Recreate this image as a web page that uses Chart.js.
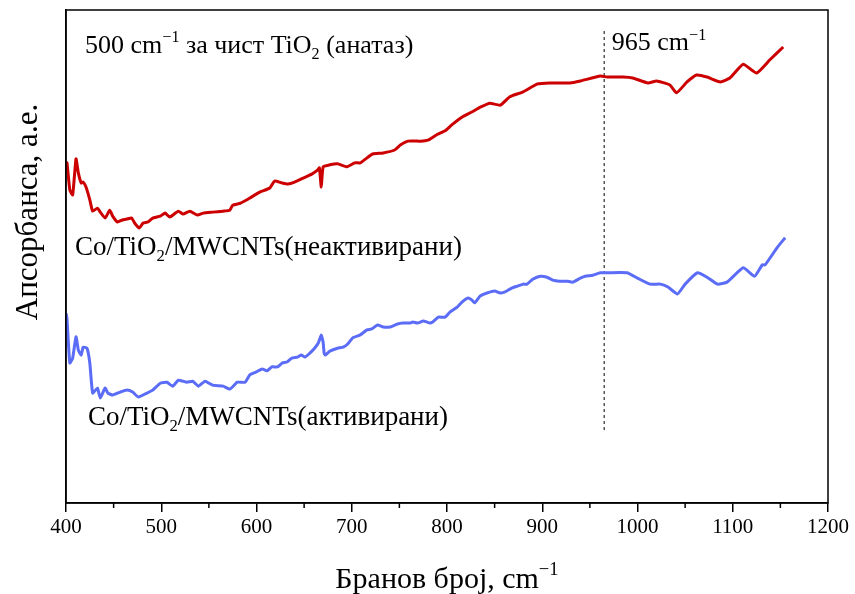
<!DOCTYPE html>
<html>
<head>
<meta charset="utf-8">
<script src="https://cdn.jsdelivr.net/npm/chart.js@4/dist/chart.umd.min.js"></script>
<style>
  html, body { margin: 0; padding: 0; background: #fff; }
  #wrap { width: 855px; height: 594px; }
</style>
</head>
<body>
<div id="wrap"><canvas id="chart"></canvas></div>
<script>
// ── Data
const redX = [400, 401, 404, 407, 410.5, 413, 416, 418, 421, 425, 428, 433, 436, 441, 446, 449, 454, 459, 464, 469, 472, 477, 481, 486, 491, 499, 504, 509, 518, 523, 530, 538, 544, 554, 565, 572, 575, 583, 590, 595, 604, 614, 619, 627, 633, 640, 649, 658, 664, 666, 668, 670, 677, 685, 695, 703, 709, 716, 722, 733, 745, 751, 759, 772, 780, 790, 798, 805, 816, 826, 835, 845, 856, 866, 880, 895, 908, 929, 940, 961, 968, 985, 995, 1011, 1020, 1034, 1041, 1052, 1062, 1073, 1087, 1097, 1111, 1125, 1139, 1153];
const redY = [68.6, 69.0, 63.5, 62.5, 69.8, 66.9, 64.9, 65.1, 64.1, 61.5, 59.2, 59.8, 59.0, 57.8, 59.4, 58.2, 57.0, 57.4, 57.6, 57.8, 56.8, 55.8, 56.8, 57.0, 57.8, 58.2, 58.8, 58.0, 59.2, 58.6, 59.2, 58.4, 58.8, 59.0, 59.2, 59.4, 60.4, 60.8, 61.5, 62.1, 63.1, 63.9, 65.3, 64.9, 64.7, 65.1, 65.9, 66.7, 67.5, 68.0, 64.1, 68.2, 68.6, 68.8, 68.2, 69.0, 69.0, 70.0, 70.8, 71.0, 71.6, 72.6, 73.4, 73.4, 73.6, 74.8, 75.5, 76.7, 78.3, 79.3, 80.3, 81.1, 80.7, 82.4, 83.4, 85.0, 85.2, 85.2, 85.6, 86.6, 86.4, 86.4, 86.2, 85.2, 85.6, 84.8, 83.2, 85.4, 86.8, 86.4, 85.4, 86.2, 89.0, 87.2, 89.9, 92.5];

const blueX = [400, 401, 404, 407, 410.5, 413, 416, 418, 422, 425, 428, 433, 436, 441, 444, 449, 457, 464, 470, 476, 485, 491, 499, 506, 512, 518, 527, 533, 539, 546, 554, 565, 572, 580, 588, 593, 600, 606, 611, 616, 622, 627, 632, 637, 643, 647, 651, 656, 661, 665, 668, 670, 671, 672, 677, 685, 691, 696, 701, 709, 716, 721, 727, 733, 740, 748, 754, 761, 764, 769, 775, 779, 782, 785, 791, 798, 803, 811, 816, 822, 826, 829, 835, 842, 850, 856, 861, 868, 874, 880, 884, 890, 898, 905, 911, 918, 926, 932, 940, 945, 953, 961, 968, 989, 1000, 1013, 1024, 1032, 1042, 1050, 1063, 1073, 1084, 1094, 1111, 1123, 1131, 1134, 1147, 1155];
const blueY = [38.5, 37.5, 28.4, 29.4, 33.7, 31.0, 30.0, 31.6, 31.4, 28.4, 22.3, 23.3, 21.3, 23.3, 22.3, 21.9, 22.5, 22.9, 22.5, 21.5, 22.3, 22.9, 24.3, 24.5, 23.7, 24.9, 24.5, 24.7, 23.7, 24.7, 23.9, 23.7, 23.1, 24.5, 24.5, 26.0, 26.6, 27.2, 26.8, 27.6, 27.6, 28.4, 28.6, 29.4, 29.6, 30.0, 29.6, 30.4, 31.4, 32.5, 34.1, 32.5, 30.4, 30.0, 30.8, 31.4, 31.6, 32.3, 33.5, 34.1, 35.1, 35.3, 36.1, 35.7, 35.7, 36.3, 36.5, 36.5, 36.7, 36.5, 36.9, 36.7, 36.5, 36.7, 37.7, 37.7, 38.7, 39.8, 40.8, 41.6, 41.2, 40.6, 42.0, 42.6, 43.0, 42.6, 42.8, 43.6, 44.0, 44.4, 44.4, 45.4, 46.0, 45.8, 45.2, 45.0, 45.0, 44.8, 45.6, 46.0, 46.2, 46.7, 46.7, 46.7, 45.6, 44.4, 44.4, 43.8, 42.4, 44.4, 46.7, 45.8, 44.4, 44.8, 47.7, 46.0, 48.3, 48.3, 51.9, 53.8];

const markerX = [965, 965];
const markerY = [14.8, 95.9];

const xTicks = [400, 500, 600, 700, 800, 900, 1000, 1100, 1200];
const xMinorTicks = [450, 550, 650, 750, 850, 950, 1050, 1150];

// ── Labels drawn on the plot, anchored in data units
// runs: [text, 0 = normal, 1 = superscript, -1 = subscript]
const labels = [
  { x: 420, y: 91.3, size: 26, runs: [['500 cm', 0], ['−1', 1], [' за чист TiO', 0], ['2', -1], [' (анатаз)', 0]] },
  { x: 973, y: 91.8, size: 26, runs: [['965 cm', 0], ['−1', 1]] },
  { x: 409.5, y: 50.3, size: 27, runs: [['Co/TiO', 0], ['2', -1], ['/MWCNTs(неактивирани)', 0]] },
  { x: 423, y: 15.8, size: 27, runs: [['Co/TiO', 0], ['2', -1], ['/MWCNTs(активирани)', 0]] },
];

const FONT = '"Liberation Serif", "DejaVu Serif", serif';
const toXY = (xs, ys) => xs.map((x, i) => ({ x, y: ys[i] }));

function runsWidth(ctx, runs, size) {
  let w = 0;
  runs.forEach(([t, k]) => { ctx.font = `${k ? size * 0.62 : size}px ${FONT}`; w += ctx.measureText(t).width; });
  return w;
}

function drawRuns(ctx, runs, x, y, size) {
  ctx.textBaseline = 'alphabetic';
  ctx.textAlign = 'left';
  for (const [t, kind] of runs) {
    const s = kind ? size * 0.62 : size;
    ctx.font = `${s}px ${FONT}`;
    const dy = kind === 1 ? -size * 0.42 : kind === -1 ? size * 0.22 : 0;
    ctx.fillText(t, x, y + dy);
    x += ctx.measureText(t).width;
  }
}

const framePlugin = {
  id: 'frame',
  afterDraw(chart) {
    const { ctx, chartArea: a, scales } = chart;
    ctx.save();
    ctx.strokeStyle = '#000';
    ctx.lineWidth = 1.5;
    ctx.strokeRect(a.left, a.top, a.right - a.left, a.bottom - a.top);
    // minor ticks
    ctx.beginPath();
    xMinorTicks.forEach(v => {
      const px = scales.x.getPixelForValue(v);
      ctx.moveTo(px, a.bottom);
      ctx.lineTo(px, a.bottom + 5);
    });
    ctx.stroke();
    ctx.fillStyle = '#000';
    labels.forEach(l => {
      drawRuns(ctx, l.runs, scales.x.getPixelForValue(l.x), scales.y.getPixelForValue(l.y), l.size);
    });
    // x axis title with superscript
    const cx = (a.left + a.right) / 2;
    const title = [['Бранов број, cm', 0], ['−1', 1]];
    drawRuns(ctx, title, cx - runsWidth(ctx, title, 30) / 2, 588, 30);
    // y axis title
    ctx.translate(37, 212);
    ctx.rotate(-Math.PI / 2);
    ctx.font = `31px ${FONT}`;
    ctx.textAlign = 'center';
    ctx.textBaseline = 'alphabetic';
    ctx.fillText('Апсорбанса, а.е.', 0, 0);
    ctx.restore();
  }
};

new Chart(document.getElementById('chart'), {
  type: 'line',
  data: {
    datasets: [
      { label: 'неактивирани', data: toXY(redX, redY), borderColor: '#cc0000', borderWidth: 3, pointRadius: 0, tension: 0.15, fill: false },
      { label: 'активирани', data: toXY(blueX, blueY), borderColor: '#5b6cf6', borderWidth: 3, pointRadius: 0, tension: 0.15, fill: false },
      { label: '965', data: toXY(markerX, markerY), borderColor: '#000', borderWidth: 1, borderDash: [3, 3], pointRadius: 0, fill: false },
    ]
  },
  options: {
    responsive: true,
    maintainAspectRatio: false,
    animation: false,
    layout: { padding: { top: 10, right: 27, left: 0, bottom: 0 } },
    plugins: { legend: { display: false }, tooltip: { enabled: false } },
    scales: {
      x: {
        type: 'linear', min: 400, max: 1200,
        afterBuildTicks: s => { s.ticks = xTicks.map(v => ({ value: v })); },
        afterFit: s => { s.height = 91; },
        grid: { drawOnChartArea: false, tickLength: 9, color: '#000', lineWidth: 1.5 },
        border: { color: '#000', width: 1.5 },
        ticks: { color: '#000', font: { family: FONT, size: 21 }, padding: 3, maxRotation: 0, callback: v => String(v) },
      },
      y: {
        min: 0, max: 100,
        afterFit: s => { s.width = 66; },
        grid: { display: false },
        border: { color: '#000', width: 1.5 },
        ticks: { display: false },
      }
    }
  },
  plugins: [framePlugin]
});
</script>
</body>
</html>
